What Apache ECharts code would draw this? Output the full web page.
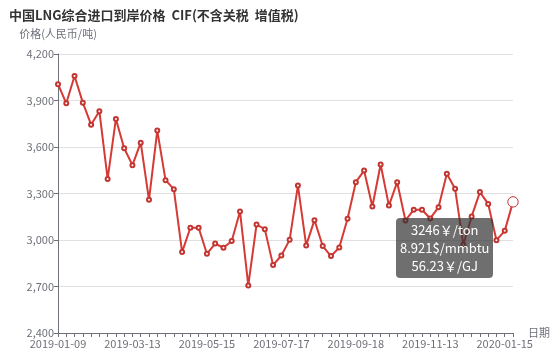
<!DOCTYPE html>
<html>
<head>
<meta charset="UTF-8">
<title>中国LNG综合进口到岸价格</title>
<script src="https://cdn.jsdelivr.net/npm/echarts@6/dist/echarts.min.js"></script>
<style>
  html, body { margin: 0; padding: 0; background: #fff; }
  #main { width: 558px; height: 355px; }
</style>
</head>
<body>
<div id="main"></div>
<script>
// weekly dates (x axis)
var dates = [
  '2019-01-09', '2019-01-16', '2019-01-23', '2019-01-30', '2019-02-06', '2019-02-13', '2019-02-20', '2019-02-27', '2019-03-06',
  '2019-03-13', '2019-03-20', '2019-03-27', '2019-04-03', '2019-04-10', '2019-04-17', '2019-04-24', '2019-05-01', '2019-05-08',
  '2019-05-15', '2019-05-22', '2019-05-29', '2019-06-05', '2019-06-12', '2019-06-19', '2019-06-26', '2019-07-03', '2019-07-10',
  '2019-07-17', '2019-07-24', '2019-07-31', '2019-08-07', '2019-08-14', '2019-08-21', '2019-08-28', '2019-09-04', '2019-09-11',
  '2019-09-18', '2019-09-25', '2019-09-29', '2019-10-08', '2019-10-12', '2019-10-16', '2019-10-23', '2019-10-30', '2019-11-06',
  '2019-11-13', '2019-11-20', '2019-11-27', '2019-12-04', '2019-12-11', '2019-12-18', '2019-12-25', '2020-01-01', '2020-01-08',
  '2020-01-15', '2020-01-22'
];

// 价格 人民币/吨
var prices = [
  4005, 3882, 4058, 3886, 3744, 3831, 3394, 3781, 3592, 3483,
  3628, 3259, 3706, 3386, 3328, 2922, 3079, 3079, 2911, 2977,
  2950, 2993, 3184, 2707, 3100, 3070, 2838, 2900, 3001, 3351,
  2965, 3128, 2961, 2896, 2952, 3137, 3373, 3448, 3216, 3487,
  3222, 3373, 3126, 3195, 3195, 3139, 3212, 3427, 3330, 2969,
  3152, 3309, 3233, 2999, 3059, 3246
];

// y axis range
var yMin = 2400;
var yMax = 4200;
var yStep = 300;

// unit conversion used in the tooltip
var cnyTonPerUsdMmbtu = 3246 / 8.921;
var cnyTonPerCnyGJ = 3246 / 56.23;

var chart = echarts.init(document.getElementById('main'));

var option = {
  animation: false,
  title: {
    text: '中国LNG综合进口到岸价格  CIF(不含关税  增值税)',
    left: 4,
    top: 4,
    textStyle: { fontSize: 13, fontWeight: 'bold', color: '#333', fontFamily: 'Noto Sans CJK SC' }
  },
  tooltip: {
    trigger: 'item',
    alwaysShowContent: true,
    position: [396, 218],
    backgroundColor: 'rgba(50,50,50,0.7)',
    borderWidth: 0,
    padding: [3, 4],
    textStyle: { color: '#fff', fontSize: 13, fontFamily: 'Noto Sans CJK SC' },
    extraCssText: 'box-shadow:none;text-align:center;line-height:18px;',
    formatter: function (p) {
      var v = p.value;
      return v + '￥/ton<br/>' +
        (v / cnyTonPerUsdMmbtu).toFixed(3) + '$/mmbtu<br/>' +
        (v / cnyTonPerCnyGJ).toFixed(2) + '￥/GJ';
    }
  },
  grid: { left: 58, right: 45, top: 54, bottom: 22, outerBoundsMode: 'none' },
  xAxis: {
    type: 'category',
    data: dates,
    boundaryGap: false,
    name: '日期',
    nameGap: 15,
    nameMoveOverlap: false,
    nameTextStyle: { color: '#6E7079', fontSize: 11, fontFamily: 'Noto Sans CJK SC' },
    axisLine: { lineStyle: { color: '#6E7079' } },
    axisTick: { interval: 0, length: 4 },
    axisLabel: { interval: 8, color: '#6E7079', fontSize: 11, margin: 5, fontFamily: 'Noto Sans CJK SC' }
  },
  yAxis: {
    type: 'value',
    min: yMin,
    max: yMax,
    interval: yStep,
    name: '价格(人民币/吨)',
    nameGap: 15,
    nameMoveOverlap: false,
    nameTextStyle: { color: '#6E7079', fontSize: 11, fontFamily: 'Noto Sans CJK SC' },
    axisLine: { show: true, lineStyle: { color: '#6E7079' } },
    axisTick: { show: true, length: 4 },
    axisLabel: { color: '#6E7079', fontSize: 11, margin: 4, fontFamily: 'Noto Sans CJK SC' },
    splitLine: { lineStyle: { color: '#E0E0E0' } }
  },
  series: [{
    name: '价格',
    type: 'line',
    data: prices,
    symbol: 'emptyCircle',
    symbolSize: 4,
    itemStyle: { color: '#c23531', borderWidth: 1 },
    lineStyle: { color: '#c23531', width: 2 },
    emphasis: { scale: 2.6, itemStyle: { borderWidth: 1 } }
  }]
};

chart.setOption(option);

var last = prices.length - 1;
chart.dispatchAction({ type: 'highlight', seriesIndex: 0, dataIndex: last });
chart.dispatchAction({ type: 'showTip', seriesIndex: 0, dataIndex: last });
</script>
</body>
</html>
